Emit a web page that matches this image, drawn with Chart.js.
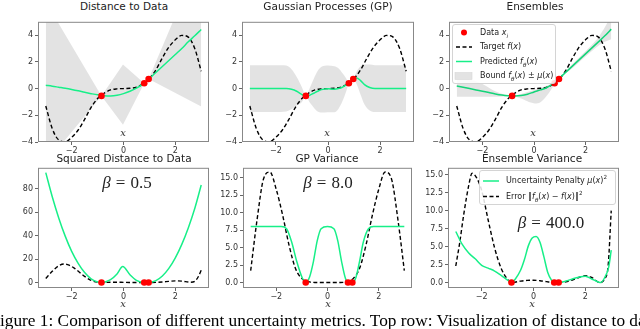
<!DOCTYPE html>
<html>
<head>
<meta charset="utf-8">
<script src="https://cdn.jsdelivr.net/npm/chart.js@4.4.1/dist/chart.umd.min.js"></script>
<style>
body { margin: 0; background: #fff; width: 640px; height: 329px; overflow: hidden; position: relative; font-family: "DejaVu Sans", sans-serif; }
canvas { position: absolute; }
.c { position: absolute; transform: translate(-50%, -50%); white-space: nowrap; line-height: 1; }
.title { font-size: 10.5px; color: #222; }
.xl { font-family: "DejaVu Serif", serif; font-style: italic; font-size: 10px; color: #333; }
.beta { font-family: "Liberation Serif", serif; font-size: 17px; color: #222; }
.beta span { margin: 0 5px; }
.legend { position: absolute; background: rgba(255,255,255,0.85); border: 1px solid #d4d4d4; border-radius: 3px; box-sizing: border-box; }
.lt { position: absolute; transform: translateY(-50%); font-size: 8px; color: #222; white-space: nowrap; line-height: 1; }
.lt sub, .lt sup { font-size: 70%; line-height: 0; }
#caption { position: absolute; left: -9.6px; top: 311px; font-family: "Liberation Serif", serif; font-size: 17.3px; color: #000; white-space: nowrap; }
</style>
</head>
<body>
<canvas id="tl"></canvas>
<canvas id="tm"></canvas>
<canvas id="tr"></canvas>
<canvas id="bl"></canvas>
<canvas id="bm"></canvas>
<canvas id="br"></canvas>

<div class="c title" style="left:124px;top:6px">Distance to Data</div>
<div class="c title" style="left:328px;top:6px">Gaussian Processes (GP)</div>
<div class="c title" style="left:535px;top:6px">Ensembles</div>
<div class="c title" style="left:124px;top:158px">Squared Distance to Data</div>
<div class="c title" style="left:327px;top:158px">GP Variance</div>
<div class="c title" style="left:532px;top:158px">Ensemble Variance</div>

<div class="c xl" style="left:123px;top:133px">x</div>
<div class="c xl" style="left:327px;top:133px">x</div>
<div class="c xl" style="left:533px;top:133px">x</div>
<div class="c xl" style="left:123px;top:304px">x</div>
<div class="c xl" style="left:328px;top:304px">x</div>
<div class="c xl" style="left:532px;top:304px">x</div>

<div class="c beta" style="left:127px;top:182px"><i>β</i><span>=</span>0.5</div>
<div class="c beta" style="left:328px;top:182px"><i>β</i><span>=</span>8.0</div>
<div class="c beta" style="left:551px;top:222px"><i>β</i><span>=</span>400.0</div>

<div class="legend" style="left:452px;top:24px;width:104px;height:60px">
  <svg style="position:absolute;left:0;top:0" width="104" height="60">
    <circle cx="11" cy="7.5" r="3" fill="red"/>
    <line x1="3" y1="22" x2="19" y2="22" stroke="#000" stroke-width="1.4" stroke-dasharray="4 2.5"/>
    <line x1="3" y1="36.5" x2="19" y2="36.5" stroke="#17ef88" stroke-width="1.5"/>
    <rect x="2" y="47.5" width="17" height="7" fill="#e3e3e3" stroke="#d8d8d8" stroke-width="0.6"/>
  </svg>
  <span class="lt" style="left:27px;top:7.5px">Data <i>x<sub>i</sub></i></span>
  <span class="lt" style="left:27px;top:22px">Target <i>f</i>(<i>x</i>)</span>
  <span class="lt" style="left:27px;top:36.5px">Predicted <i>f<sub>θ</sub></i>(<i>x</i>)</span>
  <span class="lt" style="left:27px;top:51px">Bound <i>f<sub>θ</sub></i>(<i>x</i>) ± <i>μ</i>(<i>x</i>)</span>
</div>

<div class="legend" style="left:479px;top:170px;width:137px;height:35px">
  <svg style="position:absolute;left:0;top:0" width="137" height="35">
    <line x1="3" y1="10" x2="19" y2="10" stroke="#17ef88" stroke-width="1.5"/>
    <line x1="3" y1="25.5" x2="19" y2="25.5" stroke="#000" stroke-width="1.4" stroke-dasharray="4 2.5"/>
  </svg>
  <span class="lt" style="left:26px;top:10px">Uncertainty Penalty <i>μ</i>(<i>x</i>)<sup>2</sup></span>
  <span class="lt" style="left:26px;top:25.5px">Error ‖<i>f<sub>θ</sub></i>(<i>x</i>) − <i>f</i>(<i>x</i>)‖<sup>2</sup></span>
</div>

<div id="caption">Figure 1: Comparison of different uncertainty metrics. Top row: Visualization of distance to data</div>

<script>
// tick labels
const xTicks = [-2, 0, 2];
const topYTicks = [-4, -2, 0, 2, 4];
const sqYTicks = [0, 20, 40, 60, 80];
const varYTicks = [0, 2.5, 5, 7.5, 10, 12.5, 15];

// training data
const dataX = [-0.85, 0.8, 0.97];
const dataY = [-0.55, 0.4, 0.72];
const dataZero = [0, 0, 0];

// shared x grid
const xs = [-3, -2.75, -2.5, -2.25, -2, -1.75, -1.5, -1.25, -1, -0.75, -0.5, -0.25, 0, 0.25, 0.5, 0.75, 1, 1.25, 1.5, 1.75, 2, 2.25, 2.5, 2.75, 3];
const target = [-1.3, -3.0, -3.85, -3.98, -3.65, -3.1, -2.3, -1.4, -0.75, -0.35, -0.1, -0.02, 0, 0.02, 0.1, 0.35, 0.75, 1.4, 2.3, 3.1, 3.65, 3.98, 3.85, 3.0, 1.3];
const targetSq = [1.7, 9.0, 14.8, 15.8, 13.3, 9.6, 5.3, 2.0, 0.56, 0.12, 0.01, 0, 0, 0, 0.01, 0.12, 0.56, 2.0, 5.3, 9.6, 13.3, 15.8, 14.8, 9.0, 1.7];

// distance to data
const distPred = [0.25, 0.18, 0.1, 0.02, -0.07, -0.17, -0.28, -0.38, -0.47, -0.53, -0.55, -0.5, -0.38, -0.2, 0.03, 0.33, 0.75, 1.2, 1.65, 2.1, 2.55, 3.0, 3.5, 3.95, 4.42];
const distBandX = [-3, -0.85, -0.02, 0.8, 0.97, 3];
const distUpper = [6.5, -0.55, 1.8, 0.4, 0.72, 10];
const distLower = [-5.6, -0.55, -2.7, 0.4, 0.72, -1.35];
const distPenX = [-3, -2.75, -2.5, -2.25, -2, -1.75, -1.5, -1.25, -1, -0.85, -0.5, -0.25, -0.03, 0.25, 0.5, 0.8, 0.97, 1.25, 1.5, 1.75, 2, 2.25, 2.5, 2.75, 3];
const distPenalty = [93.5, 73, 55, 39.5, 26.5, 16.3, 8.5, 3.2, 0.5, 0, 2.5, 7.3, 13.6, 6.6, 1.8, 0, 0, 1.6, 5.5, 12, 21, 32.5, 46.5, 63, 83];
const distErrX = [-3, -2.75, -2.5, -2.3, -2.1, -1.9, -1.7, -1.5, -1.25, -1, -0.85, -0.5, -0.25, 0, 0.25, 0.5, 0.8, 0.97, 1.25, 1.5, 1.75, 2, 2.25, 2.5, 2.6, 2.75, 2.9, 3];
const distErr = [3.5, 9.5, 14.3, 15.8, 14.8, 12.2, 8.8, 5.2, 1.8, 0.3, 0, 0.2, 0.25, 0.15, 0.08, 0.02, 0, 0, 0.15, 0.5, 1.0, 1.4, 1.2, 0.4, 0.2, 1.0, 5.5, 10.5];

// gaussian process
const gpX = [-3, -1.8, -1.6, -1.4, -1.2, -1.0, -0.85, -0.7, -0.55, -0.4, -0.25, 0, 0.25, 0.4, 0.55, 0.7, 0.8, 0.97, 1.1, 1.25, 1.4, 1.6, 1.8, 3];
const gpMean = [0, 0, 0, -0.05, -0.2, -0.45, -0.55, -0.5, -0.35, -0.2, -0.08, -0.02, -0.05, 0.0, 0.1, 0.28, 0.4, 0.73, 0.8, 0.6, 0.3, 0.08, 0, 0];
const gpUpper = [1.75, 1.75, 1.72, 1.45, 0.87, 0.1, -0.53, 0.05, 0.72, 1.32, 1.64, 1.73, 1.67, 1.52, 1.17, 0.76, 0.42, 0.75, 1.28, 1.67, 1.8, 1.8, 1.75, 1.75];
const gpLower = [-1.75, -1.75, -1.72, -1.55, -1.27, -1.0, -0.57, -1.05, -1.42, -1.72, -1.8, -1.77, -1.77, -1.52, -0.97, -0.2, 0.38, 0.71, 0.32, -0.47, -1.2, -1.64, -1.75, -1.75];
const gpVar = [8, 8, 7.7, 5.8, 3.0, 0.8, 0, 0.8, 3.0, 6.0, 7.7, 8.0, 7.7, 6.0, 3.0, 0.6, 0, 0, 0.6, 3.0, 5.8, 7.7, 8, 8];

// ensembles
const ensPred = [0.2, 0.1, 0.0, -0.1, -0.2, -0.3, -0.4, -0.48, -0.53, -0.55, -0.52, -0.42, -0.25, -0.1, 0.08, 0.38, 0.8, 1.25, 1.7, 2.15, 2.6, 3.05, 3.5, 3.95, 4.45];
const ensBandX = [-3, -2, -1.5, -0.85, -0.5, -0.2, 0.1, 0.3, 0.55, 0.8, 0.97, 1.5, 2, 2.5, 2.75, 3];
const ensUpper = [1.0, 0.35, -0.2, -0.53, -0.4, -0.22, -0.05, 0.08, 0.25, 0.5, 0.76, 1.85, 2.8, 3.85, 4.6, 5.5];
const ensLower = [-0.62, -0.62, -0.62, -0.57, -0.75, -1.0, -1.12, -0.95, -0.4, 0.3, 0.72, 1.55, 2.4, 3.2, 3.5, 3.7];
const ensVarX = [-3, -2.75, -2.5, -2.25, -2, -1.75, -1.5, -1.25, -1, -0.85, -0.7, -0.5, -0.35, -0.2, -0.05, 0.1, 0.25, 0.4, 0.55, 0.7, 0.8, 0.97, 1.25, 1.5, 1.75, 2, 2.25, 2.5, 2.6, 2.75, 2.9, 3];
const ensVar = [7.1, 5.3, 4.1, 3.3, 2.4, 2.0, 1.6, 1.0, 0.35, 0, 0.5, 1.7, 3.2, 5.1, 6.2, 6.4, 5.6, 3.6, 1.4, 0.3, 0, 0, 0.2, 0.5, 0.75, 0.88, 0.5, 0.08, 0, 0.7, 2.1, 4.5];
const ensErrX = [-3, -2.85, -2.7, -2.5, -2.37, -2.2, -2, -1.75, -1.5, -1.25, -1, -0.85, -0.5, -0.25, 0, 0.25, 0.5, 0.8, 0.97, 1.25, 1.5, 1.75, 2, 2.25, 2.55, 2.75, 2.88, 3];
const ensErr = [2.3, 5.5, 9.3, 13.5, 15.2, 14.6, 12.8, 8.7, 4.8, 2.0, 0.45, 0, 0.2, 0.3, 0.32, 0.25, 0.12, 0, 0, 0.1, 0.35, 0.7, 0.95, 0.7, 0, 0.5, 2.3, 10];

const GREEN = '#17ef88';
const BAND = 'rgba(0,0,0,0.11)';
Chart.defaults.font.family = '"DejaVu Sans", sans-serif';

function pts(xArr, yArr) {
    return xArr.map((x, i) => ({ x: x, y: yArr[i] }));
}

function line(xArr, yArr, color, dashed) {
    return {
        data: pts(xArr, yArr),
        borderColor: color,
        borderWidth: dashed ? 1.4 : 1.5,
        borderDash: dashed ? [4, 2.5] : [],
        pointRadius: 0,
        cubicInterpolationMode: 'monotone',
        fill: false
    };
}

function band(xArr, up, lo, smooth) {
    const mode = smooth ? 'monotone' : 'default';
    return [
        { data: pts(xArr, up), borderWidth: 0, pointRadius: 0, fill: '+1', backgroundColor: BAND, cubicInterpolationMode: mode },
        { data: pts(xArr, lo), borderWidth: 0, pointRadius: 0, fill: false, cubicInterpolationMode: mode }
    ];
}

function dots(yArr) {
    return { data: pts(dataX, yArr), showLine: false, pointRadius: 3.3, pointBackgroundColor: 'red', pointBorderWidth: 0 };
}

// box round the plot area, like the matplotlib spines
const frame = {
    id: 'frame',
    afterDraw(chart) {
        const a = chart.chartArea;
        const ctx = chart.ctx;
        ctx.save();
        ctx.strokeStyle = '#888';
        ctx.lineWidth = 1;
        ctx.strokeRect(a.left + 0.5, a.top + 0.5, a.right - a.left - 1, a.bottom - a.top - 1);
        ctx.restore();
    }
};

function makeChart(id, b, datasets, yMin, yMax, yTicks, yFmt) {
    const padL = 36, padT = 4, padR = 4, padB = 16;
    const cv = document.getElementById(id);
    cv.width = b.r - b.l + padL + padR;
    cv.height = b.b - b.t + padT + padB;
    cv.style.left = (b.l - padL) + 'px';
    cv.style.top = (b.t - padT) + 'px';
    const tickStyle = { font: { size: 8 }, color: '#333', padding: 1.5 };
    const gridStyle = { drawOnChartArea: false, drawTicks: true, tickLength: 3, tickColor: '#666' };
    return new Chart(cv, {
        type: 'line',
        data: { datasets: datasets },
        options: {
            responsive: false,
            maintainAspectRatio: false,
            animation: false,
            events: [],
            layout: { padding: { left: 0, top: padT, right: padR, bottom: 0 } },
            plugins: { legend: { display: false }, tooltip: { enabled: false } },
            scales: {
                x: {
                    type: 'linear', min: -3.3, max: 3.3,
                    afterBuildTicks: s => { s.ticks = xTicks.map(v => ({ value: v })); },
                    afterFit: s => { s.height = padB; },
                    ticks: Object.assign({ callback: v => String(v).replace('-', '\u2212'), maxRotation: 0 }, tickStyle),
                    grid: gridStyle,
                    border: { display: false }
                },
                y: {
                    type: 'linear', min: yMin, max: yMax,
                    afterBuildTicks: s => { s.ticks = yTicks.map(v => ({ value: v })); },
                    afterFit: s => { s.width = padL; },
                    ticks: Object.assign({ callback: yFmt }, tickStyle, { padding: 2 }),
                    grid: gridStyle,
                    border: { display: false }
                }
            }
        },
        plugins: [frame]
    });
}

const intFmt = v => String(v).replace('-', '\u2212');
const oneFmt = v => v.toFixed(1);

makeChart('tl', { l: 38, t: 19, r: 209, b: 142 },
    [dots(dataY), line(xs, distPred, GREEN, false), line(xs, target, '#000', true)].concat(band(distBandX, distUpper, distLower, false)),
    -4, 5, topYTicks, intFmt);

makeChart('tm', { l: 242, t: 19, r: 414, b: 142 },
    [dots(dataY), line(gpX, gpMean, GREEN, false), line(xs, target, '#000', true)].concat(band(gpX, gpUpper, gpLower, true)),
    -4, 5, topYTicks, intFmt);

makeChart('tr', { l: 449, t: 19, r: 619, b: 142 },
    band(ensBandX, ensUpper, ensLower, true).concat([dots(dataY), line(xs, ensPred, GREEN, false), line(xs, target, '#000', true)]),
    -4, 5, topYTicks, intFmt);

makeChart('bl', { l: 38, t: 165, r: 209, b: 288 },
    [dots(dataZero), line(distPenX, distPenalty, GREEN, false), line(distErrX, distErr, '#000', true)],
    -4.65, 97.65, sqYTicks, intFmt);

makeChart('bm', { l: 243, t: 165, r: 412, b: 288 },
    [dots(dataZero), line(gpX, gpVar, GREEN, false), line(xs, targetSq, '#000', true)],
    -0.78, 16.4, varYTicks, oneFmt);

makeChart('br', { l: 448, t: 165, r: 619, b: 288 },
    [dots(dataZero), line(ensVarX, ensVar, GREEN, false), line(ensErrX, ensErr, '#000', true)],
    -0.76, 15.96, varYTicks, oneFmt);
</script>
</body>
</html>
